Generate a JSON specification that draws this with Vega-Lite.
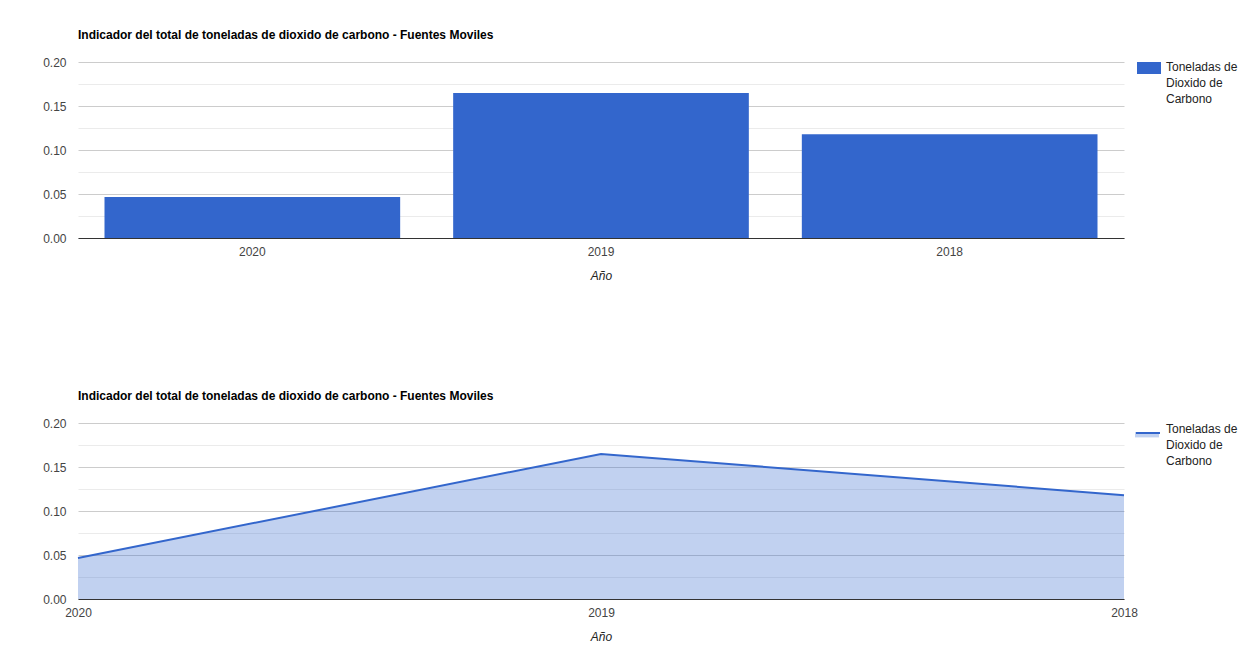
{
  "$schema": "https://vega.github.io/schema/vega-lite/v6.json",
  "padding": {"left": 42, "top": 29, "right": 0, "bottom": 0},
  "background": "white",
  "config": {
    "font": "Liberation Sans",
    "view": {"stroke": null},
    "axis": {"labelFont": "Liberation Sans", "titleFont": "Liberation Sans"}
  },
  "datasets": {
    "co2": [
      {"Año": "2020", "Toneladas": 0.0466, "serie": "Toneladas de Dioxido de Carbono"},
      {"Año": "2019", "Toneladas": 0.1648, "serie": "Toneladas de Dioxido de Carbono"},
      {"Año": "2018", "Toneladas": 0.118, "serie": "Toneladas de Dioxido de Carbono"}
    ]
  },
  "vconcat": [
    {
      "data": {"name": "co2"},
      "title": {"text": "Indicador del total de toneladas de dioxido de carbono - Fuentes Moviles", "anchor": "start", "frame": "group", "fontSize": 12, "fontWeight": "bold", "color": "#000000", "offset": 14},
      "width": 1046,
      "height": 176,
      "mark": {"type": "bar"},
      "encoding": {
        "x": {
          "field": "Año", "type": "nominal", "sort": null,
          "scale": {"paddingInner": 0.152, "paddingOuter": 0.076},
          "axis": {"title": "Año", "labelAngle": 0, "ticks": false, "domain": true, "domainColor": "#333333", "labelColor": "#444444", "labelFontSize": 12, "labelPadding": 8, "titleFontSize": 12, "titleFontStyle": "italic", "titleFontWeight": "normal", "titleColor": "#222222", "titlePadding": 13}
        },
        "y": {
          "field": "Toneladas", "type": "quantitative",
          "scale": {"domain": [0, 0.2], "nice": false},
          "axis": {"title": null, "values": [0, 0.025, 0.05, 0.075, 0.1, 0.125, 0.15, 0.175, 0.2], "ticks": false, "domain": false, "labelColor": "#444444", "labelFontSize": 12, "labelPadding": 12,
            "labelExpr": "round(datum.value*40) % 2 == 1 ? '' : format(datum.value, '.2f')",
            "gridColor": {"condition": {"test": "round(datum.value*40) % 2 == 1", "value": "#ebebeb"}, "value": "#cccccc"}}
        },
        "color": {
          "field": "serie", "type": "nominal", "scale": {"range": ["#3366cc"]},
          "legend": {"title": null, "orient": "none", "legendX": 1059, "legendY": -6, "symbolType": "M-1,-0.5H1V0.5H-1Z", "symbolSize": 576, "symbolStrokeWidth": 0, "labelFontSize": 12, "labelColor": "#222222", "labelBaseline": "top", "labelOffset": 5,
            "labelExpr": "['Toneladas de', 'Dioxido de', 'Carbono']",
            "encode": {"labels": {"update": {"lineHeight": {"value": 16}, "dy": {"value": -6}}}}}
        }
      }
    },
    {
      "data": {"name": "co2"},
      "title": {"text": "Indicador del total de toneladas de dioxido de carbono - Fuentes Moviles", "anchor": "start", "frame": "group", "fontSize": 12, "fontWeight": "bold", "color": "#000000", "offset": 14},
      "width": 1046,
      "height": 176,
      "encoding": {
        "x": {
          "field": "Año", "type": "nominal", "sort": null,
          "scale": {"type": "point", "padding": 0},
          "axis": {"title": "Año", "labelAngle": 0, "ticks": false, "domain": true, "domainColor": "#333333", "labelColor": "#444444", "labelFontSize": 12, "labelPadding": 8, "labelOverlap": false, "titleFontSize": 12, "titleFontStyle": "italic", "titleFontWeight": "normal", "titleColor": "#222222", "titlePadding": 13}
        },
        "y": {
          "field": "Toneladas", "type": "quantitative",
          "scale": {"domain": [0, 0.2], "nice": false},
          "axis": {"title": null, "values": [0, 0.025, 0.05, 0.075, 0.1, 0.125, 0.15, 0.175, 0.2], "ticks": false, "domain": false, "labelColor": "#444444", "labelFontSize": 12, "labelPadding": 12,
            "labelExpr": "round(datum.value*40) % 2 == 1 ? '' : format(datum.value, '.2f')",
            "gridColor": {"condition": {"test": "round(datum.value*40) % 2 == 1", "value": "#ebebeb"}, "value": "#cccccc"}}
        }
      },
      "layer": [
        {
          "mark": {"type": "area", "opacity": 0.3},
          "encoding": {
            "fill": {"field": "serie", "type": "nominal", "scale": {"range": ["#3366cc"]},
              "legend": {"title": null, "orient": "none", "legendX": 1057, "legendY": -3, "symbolType": "M-1,0H1V0.45H-1Z", "symbolSize": 576, "symbolOpacity": 0.3, "symbolStrokeWidth": 0, "labelFontSize": 12, "labelColor": "#222222", "labelBaseline": "top", "labelOffset": 5,
                "labelExpr": "['Toneladas de', 'Dioxido de', 'Carbono']",
                "encode": {"labels": {"update": {"lineHeight": {"value": 16}, "dy": {"value": -9}, "opacity": {"value": 0}}}}}}
          }
        },
        {
          "mark": {"type": "line", "strokeWidth": 2},
          "encoding": {
            "stroke": {"field": "serie", "type": "nominal", "scale": {"range": ["#3366cc"]},
              "legend": {"title": null, "orient": "none", "legendX": 1057, "legendY": -3, "symbolType": "M-1,0H1", "symbolSize": 576, "symbolStrokeWidth": 2, "labelFontSize": 12, "labelColor": "#222222", "labelBaseline": "top", "labelOffset": 5,
                "labelExpr": "['Toneladas de', 'Dioxido de', 'Carbono']",
                "encode": {"labels": {"update": {"lineHeight": {"value": 16}, "dy": {"value": -9}}}}}}
          }
        }
      ],
      "resolve": {"legend": {"fill": "independent", "stroke": "independent"}}
    }
  ],
  "spacing": 185,
  "bounds": "flush",
  "resolve": {"scale": {"color": "independent", "fill": "independent", "stroke": "independent", "x": "independent", "y": "independent"}, "legend": {"color": "independent", "fill": "independent", "stroke": "independent"}}
}
